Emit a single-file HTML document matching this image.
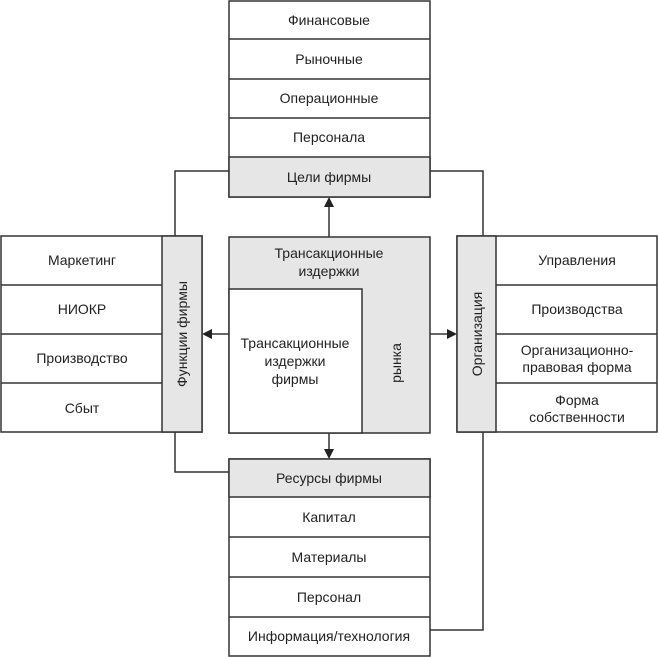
<!DOCTYPE html>
<html><head><meta charset="utf-8"><style>
html,body{margin:0;padding:0;background:#fff;}
svg{display:block;}
text{font-family:"Liberation Sans",sans-serif;font-size:14px;fill:#222;text-anchor:middle;}
</style></head><body>
<svg width="659" height="657" viewBox="0 0 659 657" xmlns="http://www.w3.org/2000/svg">
<g stroke="#333" stroke-width="1.5" fill="none">
<!-- connectors -->
<polyline points="229,171 175,171 175,237"/>
<polyline points="430,171 483,171 483,237"/>
<polyline points="175,432 175,472 229,472"/>
<polyline points="483,432 483,630 430,630"/>
<line x1="329" y1="237" x2="329" y2="206"/>
<line x1="229" y1="334" x2="212" y2="334"/>
<line x1="430" y1="334" x2="448" y2="334"/>
<line x1="329" y1="433" x2="329" y2="450"/>
</g>
<g fill="#222">
<polygon points="329,197 324,207 334,207"/>
<polygon points="202,334 212,329 212,339"/>
<polygon points="457,334 447,329 447,339"/>
<polygon points="329,459 324,449 334,449"/>
</g>
<g stroke="#333" stroke-width="1.5">
<!-- top -->
<rect x="229" y="1" width="201" height="196" fill="#fff"/>
<rect x="229" y="157" width="201" height="40" fill="#e6e6e6"/>
<line x1="229" y1="39" x2="430" y2="39"/><line x1="229" y1="79" x2="430" y2="79"/><line x1="229" y1="118" x2="430" y2="118"/>
<!-- center -->
<rect x="229" y="237" width="201" height="196" fill="#e6e6e6"/>
<rect x="229" y="289" width="133" height="144" fill="#fff"/>
<!-- left -->
<rect x="1" y="236" width="201" height="196" fill="#fff"/>
<rect x="162" y="236" width="40" height="196" fill="#e6e6e6"/>
<line x1="1" y1="285" x2="162" y2="285"/><line x1="1" y1="334" x2="162" y2="334"/><line x1="1" y1="383" x2="162" y2="383"/>
<!-- right -->
<rect x="457" y="236" width="200" height="196" fill="#fff"/>
<rect x="457" y="236" width="39" height="196" fill="#e6e6e6"/>
<line x1="496" y1="285" x2="657" y2="285"/><line x1="496" y1="334" x2="657" y2="334"/><line x1="496" y1="383" x2="657" y2="383"/>
<!-- bottom -->
<rect x="229" y="459" width="201" height="197" fill="#fff"/>
<rect x="229" y="459" width="201" height="38" fill="#e6e6e6"/>
<line x1="229" y1="537" x2="430" y2="537"/><line x1="229" y1="577" x2="430" y2="577"/><line x1="229" y1="617" x2="430" y2="617"/>
</g>
<text x="329" y="25">Финансовые</text>
<text x="329" y="64">Рыночные</text>
<text x="329" y="103">Операционные</text>
<text x="329" y="142">Персонала</text>
<text x="329" y="182">Цели фирмы</text>
<text x="329" y="258">Трансакционные</text>
<text x="329" y="276">издержки</text>
<text x="295" y="348">Трансакционные</text>
<text x="295" y="366">издержки</text>
<text x="295" y="384">фирмы</text>
<text transform="translate(401,363) rotate(-90)" x="0" y="0">рынка</text>
<text x="82" y="265">Маркетинг</text>
<text x="82" y="314">НИОКР</text>
<text x="82" y="363">Производство</text>
<text x="82" y="413">Сбыт</text>
<text transform="translate(187,334) rotate(-90)">Функции фирмы</text>
<text transform="translate(482,334) rotate(-90)">Организация</text>
<text x="577" y="265">Управления</text>
<text x="577" y="314">Производства</text>
<text x="577" y="355">Организационно-</text>
<text x="577" y="372">правовая форма</text>
<text x="577" y="405">Форма</text>
<text x="577" y="422">собственности</text>
<text x="329" y="483">Ресурсы фирмы</text>
<text x="329" y="522">Капитал</text>
<text x="329" y="562">Материалы</text>
<text x="329" y="602">Персонал</text>
<text x="329" y="641">Информация/технология</text>
</svg>
</body></html>
